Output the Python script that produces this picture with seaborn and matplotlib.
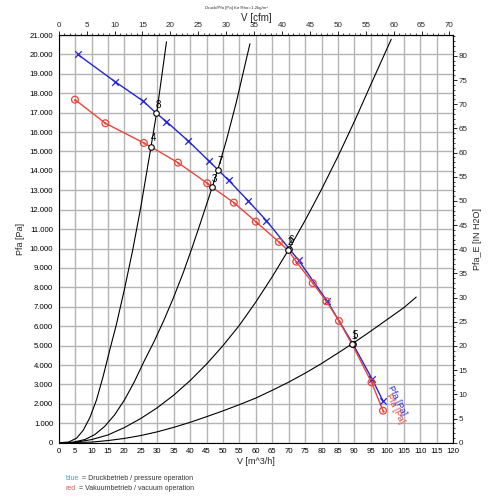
import matplotlib
matplotlib.use("Agg")
import matplotlib.pyplot as plt
import seaborn as sns
import pandas as pd
from matplotlib.ticker import MultipleLocator, FuncFormatter

# -----------------------------
# Data
# -----------------------------
# blue = pressure operation, marker points
blue_v = [5.8, 17.1, 25.7, 32.8, 39.5, 45.6, 51.7, 57.6, 63.2, 73.0, 81.6, 95.4, 98.7]
blue_p = [20000, 18600, 17600, 16540, 15530, 14530, 13520, 12470, 11440, 9400, 7320, 3270, 2150]

# red = vacuum operation, marker points
red_v = [4.95, 14.2, 25.9, 36.3, 45.2, 53.3, 60.0, 67.0, 72.3, 77.3, 81.5, 85.3, 95.2, 98.7]
red_p = [17670, 16455, 15440, 14425, 13365, 12365, 11386, 10340, 9325, 8220, 7285, 6270, 3110, 1650]

# operating points (intersections with the system curves)
op_label = ["8", "7", "6", "5", "4", "3", "2", "1"]
op_series = ["blue", "blue", "blue", "blue", "red", "red", "red", "red"]
op_v = [29.7, 48.4, 70.1, 89.5, 28.1, 46.7, 69.9, 89.3]
op_p = [16970, 14065, 10000, 5100, 15235, 13158, 9900, 5060]

# system curves
sys1_v = [0, 3, 5.5, 7.5, 9.5, 11.5, 13.5, 15.5, 17.5, 20, 22.5, 25, 28, 30, 32.8]
sys1_p = [0, 30, 240, 650, 1300, 2200, 3400, 4750, 6050, 7900, 9900, 12150, 15150, 17200, 20650]

sys2_v = [0, 4, 8, 11, 14, 17, 20, 23, 26, 29, 32, 35, 38, 40.5, 43, 46.7, 48.4, 51, 54, 58.2]
sys2_p = [0, 10, 165, 420, 840, 1430, 2200, 3130, 4200, 5200, 6300, 7500, 8800, 10000, 11250,
          13150, 14060, 15550, 17500, 20550]

sys3_v = [0, 5, 10, 15, 20, 25, 30, 35, 40, 45, 50, 55, 60, 65, 70, 75, 80, 85, 90, 95, 101.2]
sys3_p = [0, 20, 160, 400, 780, 1250, 1800, 2450, 3200, 4050, 5000, 6050, 7250, 8550, 9950,
          11450, 13050, 14750, 16550, 18450, 20780]

sys4_v = [0, 10, 15, 20, 25, 30, 35, 40, 45, 50, 55, 60, 65, 70, 75, 80, 85, 90, 95, 100, 105, 108.8]
sys4_p = [0, 30, 110, 220, 370, 560, 790, 1050, 1340, 1640, 1960, 2300, 2700, 3120, 3580, 4080,
          4620, 5170, 5750, 6350, 6950, 7500]

BLUE = "#2424d8"
RED = "#e8453c"
M3H_PER_CFM = 1.699
PA_PER_INH2O = 249.09

# -----------------------------
# Tables
# -----------------------------
ops = pd.DataFrame({"label": op_label, "series": op_series, "v": op_v, "p": op_p})

blue_line = pd.concat([
    pd.DataFrame({"v": blue_v, "p": blue_p}),
    ops[ops.series == "blue"][["v", "p"]],
]).sort_values("v")

red_line = pd.concat([
    pd.DataFrame({"v": red_v, "p": red_p}),
    ops[ops.series == "red"][["v", "p"]],
]).sort_values("v")

# -----------------------------
# Plot
# -----------------------------
sns.set_style("white")
plt.rcParams["font.family"] = ["Liberation Sans", "DejaVu Sans"]

fig = plt.figure(figsize=(5, 5), dpi=100)
ax = fig.add_axes([0.1174, 0.1146, 0.7886, 0.8154])

for sv, sp in [(sys1_v, sys1_p), (sys2_v, sys2_p), (sys3_v, sys3_p), (sys4_v, sys4_p)]:
    sns.lineplot(x=sv, y=sp, ax=ax, color="black", linewidth=0.8, sort=False, zorder=3)

sns.lineplot(data=blue_line, x="v", y="p", ax=ax, color=BLUE, linewidth=1.0, sort=False, zorder=4)
sns.lineplot(data=red_line, x="v", y="p", ax=ax, color=RED, linewidth=1.0, sort=False, zorder=4)

sns.scatterplot(x=blue_v, y=blue_p, ax=ax, marker="x", color=BLUE, s=22, linewidth=0.9, zorder=5)
sns.scatterplot(x=red_v, y=red_p, ax=ax, marker="o", facecolor="none", edgecolor=RED,
                s=24, linewidth=0.9, zorder=5)
sns.scatterplot(x=red_v, y=red_p, ax=ax, marker="o", color=RED, s=3, linewidth=0, zorder=5)

sns.scatterplot(data=ops, x="v", y="p", ax=ax, marker="o", facecolor="white",
                edgecolor="black", s=16, linewidth=0.8, zorder=6)
for _, r in ops.iterrows():
    ax.annotate(r["label"], (r["v"], r["p"]), xytext=(-0.5, 2.5), textcoords="offset points",
                fontsize=7, color="black", ha="left", va="bottom", zorder=7)

# curve labels at the end of the characteristic lines
ax.text(blue_v[-1] + 1.0, blue_p[-1] + 650, "Pfa [Pa]", color=BLUE, fontsize=6.5,
        rotation=-64, rotation_mode="anchor", ha="left", va="bottom", zorder=7)
ax.text(red_v[-1] + 0.2, red_p[-1] + 750, "Pfa [Pa]", color=RED, fontsize=6.5,
        rotation=-64, rotation_mode="anchor", ha="left", va="bottom", zorder=7)

# -----------------------------
# Axes, ticks, grid
# -----------------------------
ax.set_xlim(0, 120)
ax.set_ylim(0, 21000)
ax.xaxis.set_major_locator(MultipleLocator(5))
ax.xaxis.set_minor_locator(MultipleLocator(1))
ax.yaxis.set_major_locator(MultipleLocator(1000))
ax.yaxis.set_minor_locator(MultipleLocator(200))
ax.yaxis.set_major_formatter(FuncFormatter(lambda v, pos: f"{int(v):,}".replace(",", ".")))
ax.grid(True, which="major", color="#b4b4b4", linewidth=1.0, zorder=0)
ax.set_axisbelow(True)
ax.tick_params(which="both", direction="out", labelsize=5.6, pad=1, colors="black")
ax.tick_params(which="major", length=3, width=0.7)
ax.tick_params(which="minor", length=1.5, width=0.6)
for s in ax.spines.values():
    s.set_color("black")
    s.set_linewidth(0.8)

ax.set_xlabel("V [m^3/h]", fontsize=6.5, labelpad=1)
ax.set_ylabel("Pfa [Pa]", fontsize=6.5, labelpad=3)

top = ax.secondary_xaxis("top", functions=(lambda x: x / M3H_PER_CFM, lambda x: x * M3H_PER_CFM))
top.xaxis.set_major_locator(MultipleLocator(5))
top.xaxis.set_minor_locator(MultipleLocator(1))
top.tick_params(which="both", direction="out", labelsize=5.8, pad=1)
top.tick_params(which="major", length=3, width=0.7)
top.tick_params(which="minor", length=1.5, width=0.6)
top.set_xlabel("V [cfm]", fontsize=7, labelpad=1)

right = ax.secondary_yaxis("right", functions=(lambda y: y / PA_PER_INH2O, lambda y: y * PA_PER_INH2O))
right.yaxis.set_major_locator(MultipleLocator(5))
right.yaxis.set_minor_locator(MultipleLocator(1))
right.tick_params(which="both", direction="out", labelsize=5.8, pad=1)
right.tick_params(which="major", length=3, width=0.7)
right.tick_params(which="minor", length=1.5, width=0.6)
right.set_ylabel("Pfa_E [IN H2O]", fontsize=6.5, labelpad=4)

fig.text(0.472, 0.985, "Druck/Pfa [Pa] für Rho=1,2kg/m³", fontsize=3.2, ha="center", va="center",
         color="#333333")

# legend text under the chart
fig.text(0.132, 0.042, "blue", color="#3a9ee0", fontsize=5, ha="left", va="center")
fig.text(0.164, 0.042, "= Druckbetrieb / pressure operation", color="#333333", fontsize=5,
         ha="left", va="center")
fig.text(0.132, 0.022, "red", color="#e05a5a", fontsize=5, ha="left", va="center")
fig.text(0.158, 0.022, "= Vakuumbetrieb / vacuum operation", color="#333333", fontsize=5,
         ha="left", va="center")

fig.savefig("out.png", dpi=100, facecolor="white")
